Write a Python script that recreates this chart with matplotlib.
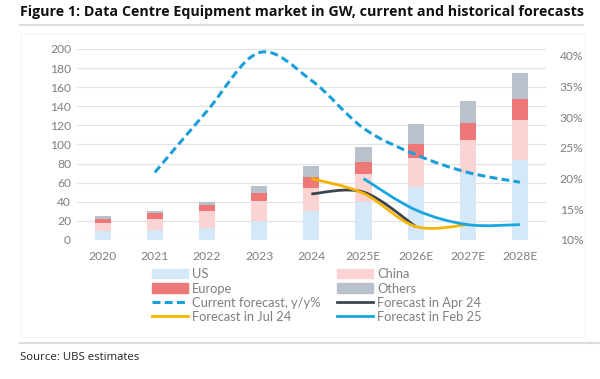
import matplotlib.pyplot as plt
from matplotlib.path import Path
from matplotlib.patches import PathPatch, Rectangle
from matplotlib.lines import Line2D

plt.rcParams['font.family'] = ['Lato', 'DejaVu Sans']

years = ['2020', '2021', '2022', '2023', '2024', '2025E', '2026E', '2027E', '2028E']

# stacked bars, GW
us = [9.5, 10, 13, 20, 30, 40, 55, 70, 84]
china = [8.5, 12, 17, 20.5, 24.5, 29, 31, 35, 41.6]
europe = [4, 6, 6.6, 8.5, 11.1, 13, 15, 18, 22.4]
others = [3, 2.4, 3.4, 7.5, 11.4, 15.7, 20, 23, 27]

# growth lines, % (x = index into years)
current_x = [1, 2, 3, 4, 5, 6, 7, 8]
current_y = [21, 31, 40.5, 36, 28.2, 23.9, 21, 19.4]
apr24_x = [4, 5, 6]
apr24_y = [17.5, 17.8, 12.2]
jul24_x = [4, 5, 6, 7]
jul24_y = [20, 17.6, 12.2, 12.5]
feb25_x = [5, 6, 7, 8]
feb25_y = [20, 14.9, 12.5, 12.5]

c_us = '#d5e8f8'
c_china = '#fcd3d3'
c_europe = '#ee7878'
c_others = '#b9c1cd'
c_current = '#1b9fdb'
c_apr = '#3b4552'
c_jul = '#f4b400'
c_feb = '#18a6e0'
grey = '#7f7f7f'
dash = (0, (2.6, 1.4))


def smooth(ax, xs, ys, **kw):
    # excel-style smoothed line: catmull-rom segments drawn as bezier curves
    verts = [(xs[0], ys[0])]
    codes = [Path.MOVETO]
    n = len(xs)
    for i in range(n - 1):
        x0, y0 = (xs[i - 1], ys[i - 1]) if i > 0 else (xs[i], ys[i])
        x1, y1 = xs[i], ys[i]
        x2, y2 = xs[i + 1], ys[i + 1]
        x3, y3 = (xs[i + 2], ys[i + 2]) if i + 2 < n else (x2, y2)
        verts += [(x1 + (x2 - x0) / 6, y1 + (y2 - y0) / 6),
                  (x2 - (x3 - x1) / 6, y2 - (y3 - y1) / 6),
                  (x2, y2)]
        codes += [Path.CURVE4] * 3
    ax.add_patch(PathPatch(Path(verts, codes), fill=False, **kw))


fig = plt.figure(figsize=(6, 3.79), dpi=100)
ax = fig.add_axes([0.1277, 0.3668, 0.7823, 0.504])

x = list(range(len(years)))
w = 0.31
b1 = [a + b for a, b in zip(us, china)]
b2 = [a + b for a, b in zip(b1, europe)]
ax.bar(x, us, w, color=c_us, zorder=2)
ax.bar(x, china, w, bottom=us, color=c_china, zorder=2)
ax.bar(x, europe, w, bottom=b1, color=c_europe, zorder=2)
ax.bar(x, others, w, bottom=b2, color=c_others, zorder=2)

ax.set_xlim(-0.5, 8.5)
ax.set_ylim(0, 200)
ax.set_yticks(range(0, 201, 20))
ax.set_xticks(x)
ax.set_xticklabels(years)
ax.grid(axis='y', color='#e3e3e3', linewidth=0.9, zorder=0)
for s in ax.spines.values():
    s.set_visible(False)
ax.tick_params(length=0, colors=grey, labelsize=8.7, pad=4)
ax.tick_params(axis='x', pad=8)

ax2 = ax.twinx()
ax2.set_ylim(10, 41.1)
ax2.set_yticks(range(10, 41, 5))
ax2.set_yticklabels([f'{v}%' for v in range(10, 41, 5)])
for s in ax2.spines.values():
    s.set_visible(False)
ax2.tick_params(length=0, colors=grey, labelsize=8.7, pad=10)

smooth(ax2, current_x, current_y, edgecolor=c_current, linewidth=2.2,
       linestyle=dash, zorder=3)
smooth(ax2, apr24_x, apr24_y, edgecolor=c_apr, linewidth=2, zorder=3)
smooth(ax2, jul24_x, jul24_y, edgecolor=c_jul, linewidth=2, zorder=4)
smooth(ax2, feb25_x, feb25_y, edgecolor=c_feb, linewidth=2, zorder=5)

handles = [
    Rectangle((0, 0), 1, 1, color=c_us),
    Rectangle((0, 0), 1, 1, color=c_europe),
    Line2D([], [], color=c_current, lw=2.2, ls=dash),
    Line2D([], [], color=c_jul, lw=2),
    Rectangle((0, 0), 1, 1, color=c_china),
    Rectangle((0, 0), 1, 1, color=c_others),
    Line2D([], [], color=c_apr, lw=2),
    Line2D([], [], color=c_feb, lw=2),
]
labels = ['US', 'Europe', 'Current forecast, y/y%', 'Forecast in Jul 24',
          'China', 'Others', 'Forecast in Apr 24', 'Forecast in Feb 25']
leg = fig.legend(handles, labels, ncol=2, loc='upper left',
                 bbox_to_anchor=(0.253, 0.292), frameon=False, fontsize=9.3,
                 handlelength=2.8, handletextpad=0.3, columnspacing=1.3,
                 labelspacing=0.17, borderpad=0, borderaxespad=0)
for t in leg.get_texts():
    t.set_color(grey)

# frame and rules
fig.patches.append(Rectangle((0.035, 0.11), 0.94, 0.8, transform=fig.transFigure,
                             fill=False, edgecolor='#f5f5f5', linewidth=0.8))
fig.add_artist(Line2D([0.033, 0.972], [0.934, 0.934], color='#dcdcdc', lw=1.5))
fig.add_artist(Line2D([0.033, 1.0], [0.096, 0.096], color='#dcdcdc', lw=1.5))

fig.text(0.034, 0.968, 'Figure 1: Data Centre Equipment market in GW, current and historical forecasts',
         fontsize=10.25, fontweight='bold', family=['Open Sans', 'DejaVu Sans'],
         va='center', ha='left', color='#111111')
fig.text(0.034, 0.058, 'Source: UBS estimates', fontsize=8.2,
         family=['Open Sans', 'DejaVu Sans'], va='center', ha='left', color='#222222')

fig.savefig('out.png', dpi=100)
